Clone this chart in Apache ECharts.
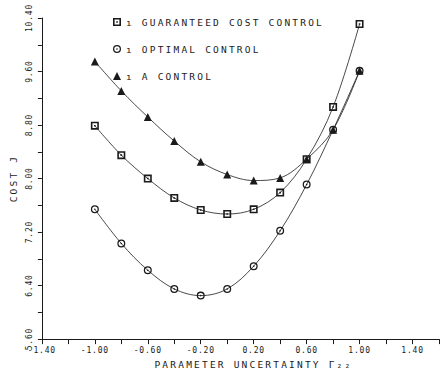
<!DOCTYPE html>
<html>
<head>
<meta charset="utf-8">
<script src="https://cdn.jsdelivr.net/npm/echarts@6/dist/echarts.min.js"></script>
<style>html,body{margin:0;padding:0;background:#fff;}#c{width:442px;height:374px;}</style>
</head>
<body>
<div id="c"></div>
<script>
const xValues = [-1.0, -0.8, -0.6, -0.4, -0.2, 0.0, 0.2, 0.4, 0.6, 0.8, 1.0];
const guaranteedCost = [8.79, 8.35, 8.00, 7.71, 7.53, 7.47, 7.54, 7.79, 8.29, 9.07, 10.31];
const optimalCost = [7.54, 7.03, 6.63, 6.35, 6.25, 6.35, 6.69, 7.22, 7.91, 8.73, 9.61];
const aControlCost = [9.75, 9.31, 8.92, 8.56, 8.25, 8.06, 7.97, 8.01, 8.29, 8.73, 9.61];
const seriesNames = ['GUARANTEED COST CONTROL', 'OPTIMAL CONTROL', 'A CONTROL'];

const SQ = 'path://M0,0 L10,0 L10,10 L0,10 Z M2,2 L2,8 L8,8 L8,2 Z M4,4 L6,4 L6,6 L4,6 Z';
const CI = 'path://M5,0 A5,5 0 1,1 5,10 A5,5 0 1,1 5,0 Z M5,1.6 A3.4,3.4 0 1,0 5,8.4 A3.4,3.4 0 1,0 5,1.6 Z M5,4 A1,1 0 1,1 5,6 A1,1 0 1,1 5,4 Z';
const FONT = 'DejaVu Sans Mono';
const INK = '#1a1a1a';

function pairs(ys) { return xValues.map((x, i) => [x, ys[i]]); }

const chart = echarts.init(document.getElementById('c'), null, {renderer: 'svg'});
chart.setOption({
  animation: false,
  backgroundColor: '#fff',
  grid: {left: 32, right: 0, top: 18, bottom: 32, containLabel: false},
  legend: {
    orient: 'vertical', left: 108, top: 11, itemWidth: 8, itemHeight: 8, itemGap: 15,
    textStyle: {fontFamily: FONT, fontSize: 9.5, lineHeight: 12, color: INK},
    formatter: n => 'ı ' + n,
    data: [
      {name: seriesNames[0], icon: SQ},
      {name: seriesNames[1], icon: CI},
      {name: seriesNames[2], icon: 'triangle'}
    ]
  },
  xAxis: {
    type: 'value', min: -1.4, max: 1.6, interval: 0.2,
    splitLine: {show: false},
    axisLine: {onZero: false, lineStyle: {color: INK, width: 1}},
    axisTick: {length: 5, lineStyle: {color: INK}},
    axisLabel: {
      fontFamily: FONT, fontSize: 8, color: INK, margin: 7, showMaxLabel: true, showMinLabel: true,
      formatter: v => {
        const k = Math.round((v + 1.4) / 0.2);
        return k % 2 === 0 ? v.toFixed(2) : '';
      }
    },
    name: 'PARAMETER UNCERTAINTY Γ₂₂',
    nameLocation: 'middle', nameGap: 15,
    nameTextStyle: {fontFamily: FONT, fontSize: 9.5, color: INK, padding: [0, 0, 0, 26]}
  },
  yAxis: {
    type: 'value', min: 5.6, max: 10.4, interval: 0.4,
    splitLine: {show: false},
    axisLine: {show: true, onZero: false, lineStyle: {color: INK, width: 1}},
    axisTick: {show: true, length: 4, lineStyle: {color: INK}},
    axisLabel: {
      fontFamily: FONT, fontSize: 8, color: INK, rotate: 90, margin: 8,
      showMaxLabel: true, showMinLabel: true,
      formatter: v => {
        const k = Math.round((v - 5.6) / 0.4);
        return k % 2 === 0 ? v.toFixed(2) : '';
      }
    },
    name: 'COST J', nameLocation: 'middle', nameGap: 20, nameRotate: 90,
    nameTextStyle: {fontFamily: FONT, fontSize: 9.5, color: INK}
  },
  series: [
    {name: seriesNames[0], type: 'line', data: pairs(guaranteedCost), smooth: 0.35,
     symbol: SQ, symbolSize: 8, itemStyle: {color: INK}, lineStyle: {color: INK, width: 0.8}},
    {name: seriesNames[1], type: 'line', data: pairs(optimalCost), smooth: 0.35,
     symbol: CI, symbolSize: 8, itemStyle: {color: INK}, lineStyle: {color: INK, width: 0.8}},
    {name: seriesNames[2], type: 'line', data: pairs(aControlCost), smooth: 0.35,
     symbol: 'triangle', symbolSize: 8, itemStyle: {color: INK}, lineStyle: {color: INK, width: 0.8}}
  ]
});

function applySpacing() {
  document.querySelectorAll('#c text').forEach(t => {
    const fs = parseFloat(getComputedStyle(t).fontSize) || 9;
    t.style.letterSpacing = fs >= 9 ? '2.2px' : '0.8px';
  });
}
applySpacing();
chart.on('finished', applySpacing);
</script>
</body>
</html>
